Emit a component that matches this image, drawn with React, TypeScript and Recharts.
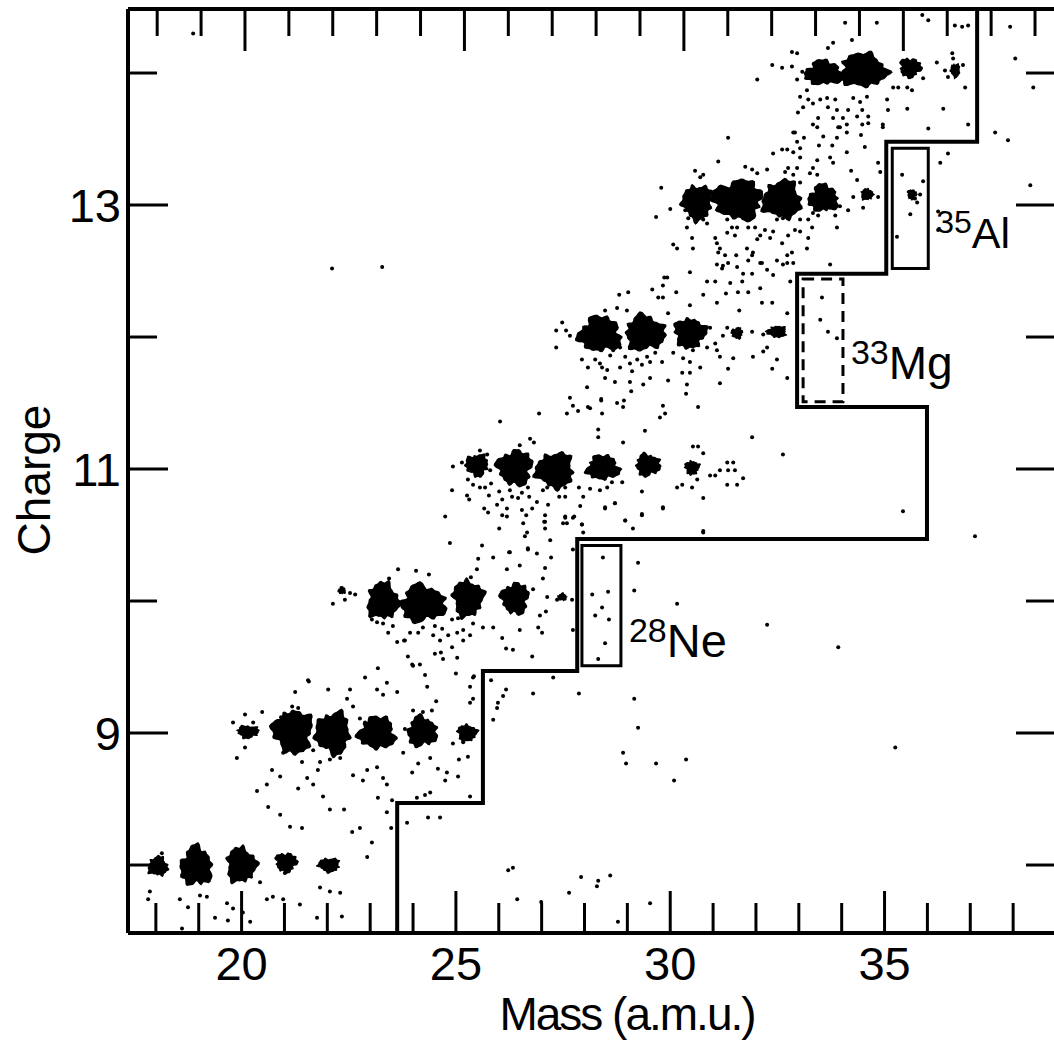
import { Label, ReferenceArea, Scatter, ScatterChart, XAxis, YAxis } from 'recharts';

const FONT = '"Liberation Sans", Arial, Helvetica, sans-serif';
const INK = '#000';

// axis ranges and ticks
const massDomain: [number, number] = [17.35, 39.0];
const massDomainTop: [number, number] = [17.335, 38.478];
const chargeDomain: [number, number] = [7.485, 14.485];
const massTicks = [18, 19, 20, 21, 22, 23, 24, 25, 26, 27, 28, 29, 30, 31, 32, 33, 34, 35, 36, 37, 38];
const chargeTicks = [8, 9, 10, 11, 12, 13, 14];
const massLabels = [20, 25, 30, 35];
const chargeLabels = [9, 11, 13];

// dense isotope groups: centre and spread (mass units, charge units)
const clusters = [
  { mass: 18.05, charge: 7.99, spreadMass: 0.47, spreadCharge: 0.15 },
  { mass: 18.94, charge: 7.99, spreadMass: 0.75, spreadCharge: 0.3 },
  { mass: 19.99, charge: 8.0, spreadMass: 0.7, spreadCharge: 0.27 },
  { mass: 21.04, charge: 8.02, spreadMass: 0.51, spreadCharge: 0.15 },
  { mass: 22.04, charge: 8.0, spreadMass: 0.51, spreadCharge: 0.11 },
  { mass: 20.15, charge: 9.01, spreadMass: 0.51, spreadCharge: 0.1 },
  { mass: 21.2, charge: 9.01, spreadMass: 0.93, spreadCharge: 0.33 },
  { mass: 22.13, charge: 9.0, spreadMass: 0.82, spreadCharge: 0.32 },
  { mass: 23.16, charge: 9.0, spreadMass: 0.86, spreadCharge: 0.25 },
  { mass: 24.21, charge: 9.01, spreadMass: 0.7, spreadCharge: 0.23 },
  { mass: 25.26, charge: 9.0, spreadMass: 0.47, spreadCharge: 0.13 },
  { mass: 22.34, charge: 10.08, spreadMass: 0.19, spreadCharge: 0.06 },
  { mass: 23.3, charge: 10.0, spreadMass: 0.75, spreadCharge: 0.28 },
  { mass: 24.23, charge: 9.98, spreadMass: 1.05, spreadCharge: 0.28 },
  { mass: 25.28, charge: 10.02, spreadMass: 0.72, spreadCharge: 0.28 },
  { mass: 26.38, charge: 10.02, spreadMass: 0.65, spreadCharge: 0.24 },
  { mass: 27.48, charge: 10.03, spreadMass: 0.23, spreadCharge: 0.06 },
  { mass: 25.49, charge: 11.03, spreadMass: 0.54, spreadCharge: 0.17 },
  { mass: 26.38, charge: 11.01, spreadMass: 0.82, spreadCharge: 0.27 },
  { mass: 27.31, charge: 10.99, spreadMass: 0.89, spreadCharge: 0.27 },
  { mass: 28.43, charge: 11.01, spreadMass: 0.77, spreadCharge: 0.19 },
  { mass: 29.48, charge: 11.03, spreadMass: 0.58, spreadCharge: 0.17 },
  { mass: 30.51, charge: 11.01, spreadMass: 0.35, spreadCharge: 0.11 },
  { mass: 28.36, charge: 12.02, spreadMass: 1.0, spreadCharge: 0.27 },
  { mass: 29.41, charge: 12.03, spreadMass: 0.93, spreadCharge: 0.27 },
  { mass: 30.46, charge: 12.03, spreadMass: 0.75, spreadCharge: 0.23 },
  { mass: 31.56, charge: 12.03, spreadMass: 0.28, spreadCharge: 0.09 },
  { mass: 32.49, charge: 12.04, spreadMass: 0.47, spreadCharge: 0.09 },
  { mass: 30.63, charge: 13.02, spreadMass: 0.7, spreadCharge: 0.27 },
  { mass: 31.58, charge: 13.04, spreadMass: 1.17, spreadCharge: 0.3 },
  { mass: 32.61, charge: 13.04, spreadMass: 0.91, spreadCharge: 0.29 },
  { mass: 33.57, charge: 13.05, spreadMass: 0.7, spreadCharge: 0.21 },
  { mass: 34.59, charge: 13.08, spreadMass: 0.3, spreadCharge: 0.09 },
  { mass: 35.64, charge: 13.08, spreadMass: 0.23, spreadCharge: 0.08 },
  { mass: 33.57, charge: 14.0, spreadMass: 0.86, spreadCharge: 0.19 },
  { mass: 34.5, charge: 14.02, spreadMass: 1.1, spreadCharge: 0.26 },
  { mass: 35.6, charge: 14.04, spreadMass: 0.51, spreadCharge: 0.15 },
  { mass: 36.65, charge: 14.02, spreadMass: 0.23, spreadCharge: 0.11 },
];

// single events [mass, charge]
const events: [number, number][] = [
  [18.14, 8.09], [17.86, 7.8], [17.82, 7.74], [18.56, 7.74], [18.75, 7.68], [19.03, 7.77], [19.19, 7.76], [19.38, 7.6],
  [19.66, 7.71], [19.8, 7.67], [19.68, 7.58], [20.03, 7.64], [20.2, 7.57], [20.59, 7.74], [20.73, 7.76], [20.97, 7.74],
  [21.36, 7.7], [21.83, 7.83], [22.06, 7.8], [22.3, 7.79], [22.34, 7.61], [21.76, 7.6], [18.61, 7.52], [21.01, 7.94],
  [20.43, 7.87], [19.89, 8.81],
  [20.97, 8.85], [21.2, 8.86], [21.41, 8.78], [21.67, 8.87], [21.83, 8.78], [22.06, 8.8], [22.3, 8.81], [21.53, 8.66],
  [21.78, 8.72], [22.6, 8.68], [22.83, 8.64], [22.93, 8.72], [23.16, 8.74], [23.3, 8.66], [23.39, 8.61], [23.18, 8.51],
  [23.51, 8.49], [23.77, 8.85], [23.98, 8.7], [24.12, 8.77], [24.4, 8.81], [24.58, 8.73], [24.79, 8.7], [25.05, 8.67],
  [25.28, 8.82], [25.33, 8.52], [24.09, 8.51], [24.28, 8.53], [23.86, 8.32], [24.35, 8.36], [24.63, 8.36], [20.71, 8.72],
  [20.9, 8.67], [20.59, 8.61], [21.32, 8.58], [21.67, 8.61], [21.9, 8.52], [20.36, 8.56], [20.62, 8.44], [20.9, 8.38],
  [21.13, 8.29], [21.41, 8.28], [22.06, 8.42], [22.39, 8.42], [22.76, 8.28], [22.58, 8.25], [23.04, 8.17], [22.93, 8.06],
  [22.13, 9.98], [22.53, 10.06], [23.42, 9.76], [23.63, 9.69], [23.81, 9.7], [23.88, 9.58], [23.18, 9.49], [22.88, 9.42],
  [23.39, 9.38], [23.16, 9.33], [23.3, 9.29], [23.63, 9.31], [22.53, 9.33], [22.02, 9.33], [21.55, 9.4], [21.25, 9.31],
  [22.46, 9.26], [22.6, 9.2], [21.18, 9.2], [21.32, 9.19], [20.48, 9.16], [20.08, 9.14], [19.8, 9.08], [20.08, 8.89],
  [24.0, 9.17], [24.0, 9.51], [21.57, 9.39], [20.92, 9.12], [21.6, 9.12], [22.76, 9.11], [22.88, 9.08], [23.81, 9.03],
  [20.27, 9.08], [24.23, 9.16], [24.44, 9.17], [24.54, 9.24], [24.33, 9.35], [25.82, 9.4], [26.17, 9.33], [26.1, 9.28],
  [25.98, 9.23], [25.96, 9.19], [25.87, 9.1], [25.33, 9.35], [25.4, 9.26], [25.33, 9.23], [25.42, 9.43], [27.27, 9.42],
  [27.87, 9.3], [26.8, 9.3], [24.75, 8.64], [24.4, 8.55], [23.39, 8.4], [23.49, 8.28], [25.07, 8.8], [24.93, 8.92],
  [25.17, 8.93], [29.16, 9.26], [29.25, 9.04], [28.9, 8.85], [28.97, 8.77], [29.67, 8.77], [30.37, 8.8], [30.09, 8.64],
  [35.25, 8.89], [26.22, 7.96], [26.33, 7.98], [26.43, 7.74], [26.99, 7.72], [27.64, 7.79], [27.92, 7.91], [28.32, 7.88],
  [28.29, 7.84], [28.6, 7.92], [28.78, 7.57], [29.53, 7.71],
  [26.01, 10.55], [26.57, 10.59], [27.06, 10.6], [27.5, 10.59], [27.94, 10.58], [26.61, 10.49], [27.08, 10.55], [24.86, 10.44],
  [25.61, 10.42], [26.24, 10.37], [26.68, 10.4], [26.89, 10.36], [27.2, 10.46], [27.22, 10.33], [25.52, 10.32], [25.87, 10.33],
  [26.49, 10.27], [26.19, 10.24], [25.49, 10.24], [27.08, 10.25], [24.07, 10.23], [23.65, 10.24], [24.37, 10.2], [23.44, 10.17],
  [25.35, 10.18], [27.03, 10.17], [22.65, 10.05], [22.41, 10.01], [26.8, 10.09], [27.13, 10.03], [27.36, 10.01], [27.71, 10.01],
  [26.96, 9.89], [27.1, 9.92], [26.49, 9.78], [26.92, 9.8], [27.01, 9.76], [26.08, 9.72], [26.17, 9.64], [26.33, 9.63],
  [26.78, 9.58], [25.63, 9.8], [25.87, 9.8], [25.4, 9.83], [25.17, 9.78], [25.33, 9.74], [25.03, 9.76], [24.82, 9.74],
  [24.68, 9.79], [24.51, 9.81], [24.91, 9.86], [25.05, 9.87], [25.17, 9.7], [24.91, 9.65], [24.63, 9.7], [24.47, 9.74],
  [24.51, 9.6], [24.65, 9.61], [24.7, 9.56], [25.03, 9.57], [24.12, 9.76], [24.23, 9.8], [23.93, 9.76], [23.79, 9.7],
  [23.53, 9.81], [23.3, 9.83], [23.16, 9.84], [23.04, 9.86], [23.98, 9.52], [24.16, 9.52], [24.28, 9.44], [25.0, 9.45],
  [25.4, 9.42], [28.18, 10.05], [28.41, 9.95], [28.25, 9.89], [28.48, 9.68], [28.32, 9.56], [28.43, 10.33], [28.55, 10.07],
  [28.57, 9.86], [29.25, 10.29], [29.16, 10.08], [30.16, 9.98], [32.26, 9.82], [33.92, 9.65], [35.43, 10.68], [37.11, 10.49],
  [27.5, 10.03], [27.73, 9.78], [27.73, 10.39], [27.97, 10.52], [27.55, 10.64], [27.73, 10.63], [28.48, 10.71], [28.71, 10.74],
  [29.34, 10.66], [29.83, 10.71], [28.95, 10.61], [29.13, 10.55], [30.77, 10.52],
  [27.66, 11.54], [27.73, 11.48], [28.13, 11.46], [28.39, 11.53], [28.41, 11.42], [28.76, 11.5], [28.92, 11.52], [29.09, 11.59],
  [29.83, 11.48], [29.76, 11.39], [29.88, 11.42], [30.37, 11.57], [30.65, 11.47], [26.94, 11.42], [27.59, 11.42], [27.85, 11.44],
  [26.03, 11.36], [28.32, 11.3], [28.32, 11.24], [29.41, 11.29], [28.9, 11.2], [26.73, 11.23], [26.82, 11.2], [26.49, 11.18],
  [31.91, 11.24], [32.63, 11.11], [30.53, 11.17], [30.65, 11.17], [30.77, 11.12], [25.56, 11.14], [25.14, 11.05], [24.93, 11.02],
  [25.8, 10.99], [25.73, 11.11], [24.91, 10.84], [25.28, 10.92], [25.4, 10.88], [25.56, 10.86], [25.68, 10.86], [25.82, 10.89],
  [25.26, 10.8], [25.31, 10.77], [25.77, 10.8], [26.01, 10.83], [26.08, 10.77], [26.26, 10.84], [26.31, 10.79], [26.45, 10.78],
  [26.54, 10.82], [26.68, 10.86], [26.71, 10.79], [26.89, 10.75], [26.78, 10.7], [26.64, 10.65], [26.54, 10.69], [26.19, 10.7],
  [25.96, 10.73], [25.66, 10.7], [25.75, 10.67], [26.08, 10.65], [26.19, 10.64], [27.08, 10.65], [27.15, 10.73], [27.03, 10.84],
  [27.13, 10.86], [27.38, 10.86], [27.55, 10.86], [27.55, 10.79], [27.41, 10.79], [27.87, 10.86], [27.97, 10.79], [28.13, 10.85],
  [28.36, 10.84], [28.53, 10.86], [28.64, 10.9], [28.88, 10.9], [28.71, 10.74], [28.48, 10.7], [27.9, 10.72], [27.55, 10.63],
  [27.59, 10.59], [27.76, 10.64], [27.94, 10.58], [28.95, 10.61], [29.34, 10.65], [29.34, 10.83], [29.83, 10.7], [30.77, 10.78],
  [30.77, 10.53], [30.16, 10.86], [30.28, 10.88], [30.51, 10.86], [30.93, 10.95], [31.05, 10.95], [31.16, 10.99], [31.33, 11.05],
  [31.47, 11.05], [31.35, 10.99], [31.51, 10.99], [31.7, 10.93], [31.33, 10.88], [31.56, 10.88], [30.63, 10.92], [24.75, 10.64],
  [26.26, 10.37], [26.66, 10.52], [26.68, 10.39], [27.08, 10.6],
  [31.12, 12.64], [31.28, 12.62], [31.23, 12.54], [31.09, 12.55], [31.54, 12.62], [31.91, 12.62], [32.14, 12.56], [32.73, 12.62],
  [32.87, 12.56], [32.63, 12.55], [31.7, 12.48], [31.91, 12.48], [31.68, 12.42], [32.4, 12.47], [32.8, 12.42], [31.4, 12.41],
  [30.86, 12.42], [31.05, 12.42], [29.86, 12.45], [29.83, 12.39], [29.58, 12.36], [29.72, 12.3], [29.83, 12.3], [30.14, 12.34],
  [30.77, 12.32], [31.3, 12.33], [31.58, 12.34], [32.1, 12.37], [31.82, 12.34], [28.81, 12.32], [29.02, 12.34], [30.46, 12.24],
  [31.09, 12.26], [31.61, 12.2], [32.14, 12.26], [32.38, 12.26], [32.73, 12.18], [29.95, 12.18], [28.99, 12.2], [28.76, 12.22],
  [28.48, 12.2], [27.48, 12.11], [27.57, 12.05], [27.34, 12.05], [27.66, 12.01], [27.34, 11.92], [30.93, 12.07], [31.33, 12.07],
  [31.91, 12.04], [32.17, 12.02], [31.23, 12.01], [31.05, 11.95], [30.86, 11.92], [31.09, 11.9], [27.94, 11.83], [28.08, 11.77],
  [28.25, 11.83], [28.36, 11.8], [28.41, 11.77], [28.53, 11.75], [28.6, 11.86], [28.67, 11.9], [28.83, 11.92], [28.95, 11.85],
  [29.06, 11.8], [28.83, 11.77], [29.11, 11.74], [29.23, 11.83], [29.34, 11.79], [29.46, 11.85], [29.53, 11.81], [29.65, 11.88],
  [29.81, 11.81], [30.07, 11.88], [30.3, 11.84], [30.53, 11.9], [30.46, 11.81], [30.28, 11.73], [30.46, 11.73], [30.7, 11.77],
  [30.39, 11.64], [29.95, 11.67], [29.53, 11.69], [29.37, 11.64], [29.06, 11.66], [28.71, 11.66], [28.48, 11.69], [28.06, 11.62],
  [28.08, 11.47], [28.39, 11.52], [28.9, 11.47], [31.16, 11.65], [31.35, 11.76], [31.47, 11.84], [31.16, 11.85], [31.93, 11.85],
  [32.17, 11.89], [32.26, 11.92], [32.49, 11.83], [32.38, 11.76], [32.73, 11.69], [33.54, 12.3], [33.5, 12.13], [33.68, 12.04],
  [33.89, 11.99],
  [31.35, 13.51], [31.12, 13.33], [32.4, 13.39], [32.61, 13.42], [32.87, 13.4], [32.87, 13.55], [33.12, 13.51], [33.33, 13.61],
  [33.47, 13.45], [33.57, 13.52], [33.78, 13.45], [33.89, 13.51], [33.96, 13.59], [34.12, 13.61], [34.12, 13.55], [34.48, 13.61],
  [34.62, 13.62], [34.96, 13.61], [34.45, 13.53], [34.54, 13.44], [34.12, 13.4], [33.8, 13.32], [33.73, 13.36], [33.43, 13.34],
  [33.33, 13.28], [33.03, 13.36], [32.96, 13.28], [32.75, 13.28], [33.26, 13.24], [32.68, 13.25], [32.87, 13.23], [33.43, 13.23],
  [34.22, 13.26], [34.85, 13.32], [34.9, 13.25], [34.36, 13.19], [33.03, 13.17], [32.03, 13.24], [31.91, 13.27], [31.75, 13.29],
  [30.7, 13.21], [30.77, 13.23], [29.79, 13.13], [30.0, 12.97], [29.67, 12.91], [34.27, 13.06], [34.66, 13.1], [34.5, 12.98],
  [34.85, 13.06], [34.15, 12.96], [33.96, 12.99], [33.85, 12.92], [33.73, 12.98], [33.45, 12.92], [33.33, 12.94], [33.22, 12.89],
  [33.03, 12.89], [33.89, 12.83], [33.31, 12.83], [33.03, 12.8], [32.91, 12.81], [30.35, 12.96], [30.42, 12.9], [30.65, 12.94],
  [30.77, 12.89], [30.39, 12.83], [30.51, 12.75], [30.86, 12.86], [31.05, 12.75], [31.09, 12.71], [31.16, 12.67], [31.33, 12.89],
  [31.44, 12.83], [31.56, 12.83], [31.51, 12.77], [31.33, 12.79], [31.7, 12.9], [31.82, 12.83], [31.98, 12.83], [32.1, 12.77],
  [32.03, 12.74], [32.21, 12.81], [32.33, 12.75], [32.49, 12.89], [32.63, 12.9], [32.4, 12.8], [32.61, 12.71], [32.75, 12.77],
  [31.35, 12.56], [31.56, 12.53], [31.79, 12.67], [31.82, 12.58], [31.93, 12.64], [32.1, 12.56], [32.26, 12.51], [32.49, 12.58],
  [32.73, 12.56], [32.84, 12.64], [33.19, 12.67], [33.22, 12.75], [30.16, 12.67], [30.53, 12.67], [30.07, 12.7], [31.21, 12.52],
  [29.93, 12.45], [30.46, 12.49], [33.73, 12.55], [35.41, 13.23], [35.64, 13.1], [35.71, 13.05], [35.83, 13.08], [35.76, 13.02],
  [35.6, 12.93], [35.29, 12.76], [35.9, 13.18], [36.25, 12.95], [36.25, 12.81],
  [36.02, 14.4], [35.88, 14.44], [36.64, 14.36], [36.81, 14.35], [36.95, 14.36], [34.82, 14.38], [34.08, 14.38], [33.68, 14.19],
  [33.8, 14.23], [34.24, 14.25], [32.84, 14.16], [32.96, 14.15], [32.03, 13.95], [32.38, 14.06], [32.61, 14.04], [32.84, 14.05],
  [33.08, 14.01], [32.96, 13.95], [33.19, 13.87], [33.03, 13.82], [33.22, 13.8], [33.1, 13.74], [32.98, 13.7], [33.33, 13.77],
  [33.5, 13.8], [33.66, 13.81], [33.68, 13.74], [33.85, 13.8], [33.89, 13.72], [34.15, 13.72], [34.27, 13.81], [34.43, 13.78],
  [34.59, 13.82], [34.48, 13.72], [34.62, 13.67], [34.36, 13.67], [34.03, 13.66], [33.92, 13.59], [33.43, 13.59], [33.45, 13.66],
  [33.8, 13.66], [35.06, 13.8], [35.2, 13.89], [35.32, 13.89], [35.53, 13.89], [35.64, 13.87], [35.9, 13.96], [36.22, 14.08],
  [36.41, 14.02], [36.48, 13.97], [36.64, 14.04], [36.71, 14.0], [36.83, 14.06], [36.88, 13.89], [36.58, 14.15], [36.6, 14.11],
  [36.37, 13.73], [36.95, 13.61], [36.02, 13.58], [35.53, 13.73], [35.08, 13.72], [34.96, 13.59], [32.91, 13.55], [32.26, 13.27],
  [32.96, 13.48], [33.03, 13.43], [32.73, 13.42], [30.58, 13.26], [37.58, 13.55], [37.88, 13.49], [38.05, 14.11], [38.47, 13.89],
  [37.93, 14.35], [36.48, 13.39], [36.3, 13.32], [38.4, 13.15], [18.87, 14.3], [22.11, 12.52], [23.28, 12.53],
];

// particle-identification cut (staircase)
const cutMass = [23.63, 23.63, 25.63, 25.63, 27.83, 27.83, 35.99, 35.99, 32.96, 32.96, 35.04, 35.04, 37.16, 37.16];
const cutCharge = [7.485, 8.47, 8.47, 9.47, 9.47, 10.47, 10.47, 11.47, 11.47, 12.48, 12.48, 13.48, 13.48, 14.485];

// search windows
const windows = [
  { mass: '28', symbol: 'Ne', m1: 27.94, m2: 28.85, q1: 9.51, q2: 10.42 },
  { mass: '33', symbol: 'Mg', m1: 33.1, m2: 34.03, q1: 11.51, q2: 12.44 },
  { mass: '35', symbol: 'Al', m1: 35.18, m2: 36.02, q1: 12.52, q2: 13.43 },
];

const eventData = events.map(([mass, charge]) => ({ mass, charge }));
const cutData = cutMass.map((mass, i) => ({ mass, charge: cutCharge[i] }));

const CHART_W = 1070;
const CHART_H = 1048;
const PLOT_LEFT = 128;
const PLOT_TOP = 9;
const PLOT_RIGHT = 1056;
const PLOT_BOTTOM = 933;
const EDGE = 1; // thickness reserved for the top and right frame axes
const pxPerMass = (PLOT_RIGHT - PLOT_LEFT) / (massDomain[1] - massDomain[0]);
const pxPerCharge = (PLOT_BOTTOM - PLOT_TOP) / (chargeDomain[1] - chargeDomain[0]);

function blobPath(cx: number, cy: number, rx: number, ry: number, seed: number) {
  const n = 60;
  const pts: string[] = [];
  for (let i = 0; i < n; i++) {
    const t = (i / n) * Math.PI * 2;
    const k =
      1.0 +
      0.1 * Math.sin(3 * t + seed) +
      0.08 * Math.sin(5 * t + seed * 2.3) +
      0.07 * Math.sin(9 * t + seed * 0.7) +
      0.06 * Math.sin(14 * t + seed * 1.7);
    pts.push(`${(cx + Math.cos(t) * rx * k).toFixed(1)},${(cy + Math.sin(t) * ry * k).toFixed(1)}`);
  }
  return `M${pts.join('L')}Z`;
}

const ClusterShape = (props: any) => {
  const { cx, cy, payload } = props;
  if (cx == null || cy == null) return <g />;
  const rx = (payload.spreadMass / 2) * pxPerMass;
  const ry = (payload.spreadCharge / 2) * pxPerCharge;
  return <path d={blobPath(cx, cy, rx, ry, payload.mass * 7.3)} fill={INK} />;
};

const EventShape = (props: any) => {
  const { cx, cy } = props;
  if (cx == null || cy == null) return <g />;
  return <circle cx={cx} cy={cy} r={2} fill={INK} />;
};

const Hidden = () => <g />;

const BottomTick = (props: any) => {
  const { x, y, payload } = props;
  const major = massLabels.includes(payload.value);
  return (
    <g>
      <line x1={x} y1={y} x2={x} y2={y - (major ? 42 : 30)} stroke={INK} strokeWidth={3} />
      {major && (
        <text x={x} y={y + 47} textAnchor="middle" fontSize={47} fontFamily={FONT} fill={INK}>
          {payload.value}
        </text>
      )}
    </g>
  );
};

const TopTick = (props: any) => {
  const { x, y, payload } = props;
  const major = payload.value % 5 === 0;
  return <line x1={x} y1={y} x2={x} y2={y + (major ? 42 : 27)} stroke={INK} strokeWidth={3} />;
};

const LeftTick = (props: any) => {
  const { x, y, payload } = props;
  const major = chargeLabels.includes(payload.value);
  return (
    <g>
      <line x1={x} y1={y} x2={x + (major ? 40 : 29)} y2={y} stroke={INK} strokeWidth={3} />
      {major && (
        <text x={x - 7} y={y + 17} textAnchor="end" fontSize={47} fontFamily={FONT} fill={INK}>
          {payload.value}
        </text>
      )}
    </g>
  );
};

const RightTick = (props: any) => {
  const { x, y, payload } = props;
  const major = chargeLabels.includes(payload.value);
  return <line x1={x} y1={y} x2={x - (major ? 40 : 30)} y2={y} stroke={INK} strokeWidth={3} />;
};

const MassTitle = (props: any) => {
  const vb = props.viewBox ?? { x: PLOT_LEFT, y: PLOT_BOTTOM, width: PLOT_RIGHT - PLOT_LEFT, height: 115 };
  return (
    <text
      x={vb.x + vb.width / 2 + 35}
      y={vb.y + 97}
      textAnchor="middle"
      fontSize={46}
      letterSpacing={-2}
      fontFamily={FONT}
      fill={INK}
    >
      Mass (a.m.u.)
    </text>
  );
};

const ChargeTitle = (props: any) => {
  const vb = props.viewBox ?? { x: 0, y: PLOT_TOP, width: PLOT_LEFT, height: PLOT_BOTTOM - PLOT_TOP };
  const cy = vb.y + vb.height / 2 + 9;
  return (
    <text
      transform={`rotate(-90, ${vb.x + 50}, ${cy})`}
      x={vb.x + 50}
      y={cy}
      textAnchor="middle"
      fontSize={46}
      fontFamily={FONT}
      fill={INK}
    >
      Charge
    </text>
  );
};

const IsotopeLabel = (props: any) => {
  const { viewBox, mass, symbol, supSize, symSize, lift } = props;
  if (!viewBox) return null;
  const { x, y, width, height } = viewBox;
  return (
    <text x={x + width + 8} y={y + height - lift} fontFamily={FONT} fill={INK}>
      <tspan fontSize={supSize}>{mass}</tspan>
      <tspan fontSize={symSize} dy={15}>
        {symbol}
      </tspan>
    </text>
  );
};

export default function App() {
  const [ne, mg, al] = windows;
  return (
    <div
      style={{
        position: 'absolute',
        left: 0,
        top: 0,
        width: 1054,
        height: 1048,
        overflow: 'hidden',
        background: '#fff',
      }}
    >
      <ScatterChart
        width={CHART_W}
        height={CHART_H}
        margin={{ top: PLOT_TOP - EDGE, right: CHART_W - PLOT_RIGHT - EDGE, bottom: 0, left: 0 }}
      >
        <XAxis
          type="number"
          dataKey="mass"
          domain={massDomain}
          allowDataOverflow
          ticks={massTicks}
          interval={0}
          height={CHART_H - PLOT_BOTTOM}
          tickSize={0}
          tickMargin={0}
          tickLine={false}
          axisLine={{ stroke: INK, strokeWidth: 4 }}
          tick={<BottomTick />}
        >
          <Label content={<MassTitle />} />
        </XAxis>
        <XAxis
          xAxisId="top"
          orientation="top"
          type="number"
          dataKey="mass"
          domain={massDomainTop}
          allowDataOverflow
          ticks={massTicks}
          interval={0}
          height={EDGE}
          tickSize={0}
          tickMargin={0}
          tickLine={false}
          axisLine={{ stroke: INK, strokeWidth: 4 }}
          tick={<TopTick />}
        />
        <YAxis
          type="number"
          dataKey="charge"
          domain={chargeDomain}
          allowDataOverflow
          ticks={chargeTicks}
          interval={0}
          width={PLOT_LEFT}
          tickSize={0}
          tickMargin={0}
          tickLine={false}
          axisLine={{ stroke: INK, strokeWidth: 4 }}
          tick={<LeftTick />}
        >
          <Label content={<ChargeTitle />} />
        </YAxis>
        <YAxis
          yAxisId="right"
          orientation="right"
          type="number"
          dataKey="charge"
          domain={chargeDomain}
          allowDataOverflow
          ticks={chargeTicks}
          interval={0}
          width={EDGE}
          tickSize={0}
          tickMargin={0}
          tickLine={false}
          axisLine={{ stroke: INK, strokeWidth: 4 }}
          tick={<RightTick />}
        />

        <ReferenceArea
          x1={ne.m1}
          x2={ne.m2}
          y1={ne.q1}
          y2={ne.q2}
          fill="none"
          fillOpacity={0}
          stroke={INK}
          strokeWidth={3}
          ifOverflow="visible"
          label={<IsotopeLabel mass={ne.mass} symbol={ne.symbol} supSize={34} symSize={47} lift={24} />}
        />
        <ReferenceArea
          x1={mg.m1}
          x2={mg.m2}
          y1={mg.q1}
          y2={mg.q2}
          fill="none"
          fillOpacity={0}
          stroke={INK}
          strokeWidth={3}
          strokeDasharray="11 7"
          ifOverflow="visible"
          label={<IsotopeLabel mass={mg.mass} symbol={mg.symbol} supSize={34} symSize={46} lift={38} />}
        />
        <ReferenceArea
          x1={al.m1}
          x2={al.m2}
          y1={al.q1}
          y2={al.q2}
          fill="none"
          fillOpacity={0}
          stroke={INK}
          strokeWidth={3}
          ifOverflow="visible"
          label={<IsotopeLabel mass={al.mass} symbol={al.symbol} supSize={32} symSize={43} lift={35} />}
        />

        {/* the frame's top and right edges carry the same cut so those axes get a domain */}
        <Scatter
          data={cutData}
          xAxisId="top"
          yAxisId="right"
          shape={Hidden}
          legendType="none"
          isAnimationActive={false}
        />
        <Scatter
          data={cutData}
          line={{ stroke: INK, strokeWidth: 4 }}
          lineType="joint"
          shape={Hidden}
          isAnimationActive={false}
        />
        <Scatter data={clusters} shape={ClusterShape} isAnimationActive={false} />
        <Scatter data={eventData} shape={EventShape} isAnimationActive={false} />
      </ScatterChart>
    </div>
  );
}
